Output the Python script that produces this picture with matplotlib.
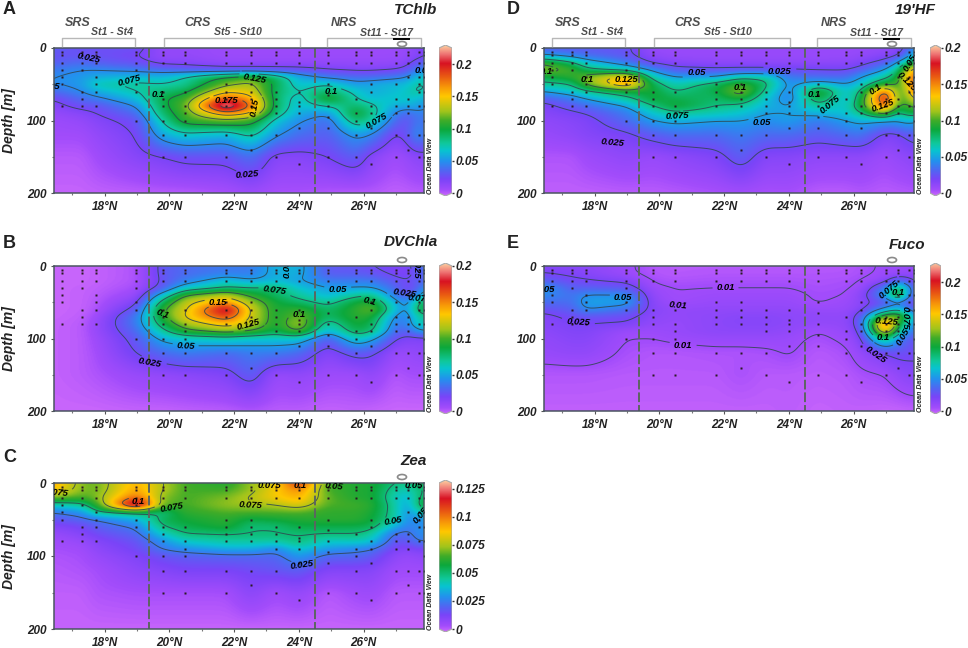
import numpy as np
import matplotlib
matplotlib.use("Agg")
import matplotlib.pyplot as plt
from matplotlib.colors import LinearSegmentedColormap, Normalize
from matplotlib.patches import Ellipse, Polygon

# station latitudes (St1 - St17) and the depths the sections were read at
station_lat = [16.68, 17.29, 17.73, 18.97, 19.80, 20.48, 21.75, 22.52, 23.29,
               24.00, 24.90, 25.78, 26.23, 26.99, 27.39, 27.71, 27.86]
grid_lat = [16.43] + station_lat[1:-1] + [27.87]
grid_depth = [0, 10, 20, 30, 40, 50, 60, 70, 80, 90, 100, 120, 150, 200]

# bottle depths per station, drawn as the small dots
sample_depths = [
    [5, 10, 20, 30, 40, 50, 80],
    [5, 10, 20, 30, 60, 70, 80],
    [5, 10, 20, 40, 50, 60, 80],
    [5, 10, 20, 30, 50, 60, 100],
    [5, 10, 20, 60, 70, 80, 100, 120, 150],
    [5, 10, 20, 60, 80, 90, 100, 120, 150],
    [5, 10, 20, 50, 60, 70, 80, 120, 150],
    [5, 10, 20, 50, 60, 70, 80, 120, 140],
    [5, 10, 20, 60, 70, 80, 90, 120, 150],
    [5, 10, 20, 60, 75, 80, 90, 110, 160],
    [5, 10, 20, 50, 65, 80, 95, 110, 150],
    [5, 10, 20, 70, 90, 100, 120, 150],
    [5, 10, 20, 50, 60, 80, 90, 110, 160],
    [5, 10, 20, 50, 70, 80, 90, 120, 150],
    [5, 10, 20, 40, 70, 80, 90, 120, 140],
    [5, 20, 40, 50, 60, 80, 120, 150],
    [5, 10, 20, 40, 60, 80, 100, 120, 150],
]

tchlb = [
    [.035, .030, .030, .030, .015, .015, .012, .012, .012, .012, .012, .012, .012, .012, .015, .020, .025],
    [.030, .030, .030, .025, .015, .015, .012, .012, .012, .012, .012, .012, .012, .012, .015, .020, .025],
    [.035, .040, .035, .030, .020, .020, .015, .015, .015, .015, .015, .015, .015, .015, .020, .035, .035],
    [.045, .050, .050, .045, .040, .035, .030, .030, .030, .030, .025, .022, .022, .025, .030, .050, .050],
    [.050, .055, .060, .065, .065, .078, .105, .115, .092, .062, .045, .040, .040, .045, .050, .070, .070],
    [.050, .055, .075, .080, .075, .080, .120, .130, .095, .065, .075, .055, .060, .065, .065, .080, .075],
    [.040, .050, .060, .075, .088, .095, .145, .140, .090, .075, .090, .070, .060, .065, .070, .085, .070],
    [.025, .040, .045, .065, .098, .110, .185, .160, .090, .065, .110, .075, .065, .070, .070, .065, .060],
    [.020, .030, .030, .050, .095, .118, .235, .175, .090, .065, .075, .090, .080, .060, .060, .060, .050],
    [.015, .020, .025, .040, .090, .112, .165, .150, .085, .060, .052, .105, .085, .048, .035, .050, .045],
    [.012, .015, .020, .030, .078, .110, .118, .110, .068, .052, .040, .090, .078, .040, .028, .050, .040],
    [.010, .010, .015, .025, .060, .070, .062, .080, .052, .040, .035, .055, .050, .022, .030, .060, .040],
    [.005, .005, .010, .020, .025, .030, .030, .042, .020, .020, .025, .036, .020, .010, .015, .020, .020],
    [.002, .002, .003, .004, .005, .005, .008, .012, .008, .008, .006, .005, .006, .003, .004, .005, .005],
]

dvchla = [
    [.001, .001, .002, .006, .030, .035, .040, .040, .055, .055, .030, .028, .025, .022, .020, .035, .040],
    [.001, .001, .002, .006, .030, .035, .040, .040, .055, .055, .030, .030, .028, .022, .020, .030, .035],
    [.001, .001, .002, .006, .028, .040, .060, .050, .055, .050, .040, .040, .040, .028, .025, .030, .035],
    [.001, .002, .003, .008, .030, .060, .075, .075, .080, .060, .050, .050, .050, .035, .020, .030, .050],
    [.001, .002, .004, .012, .060, .100, .118, .095, .080, .070, .055, .070, .075, .040, .025, .050, .060],
    [.001, .002, .005, .020, .085, .118, .145, .112, .090, .080, .070, .090, .095, .055, .040, .085, .080],
    [.001, .002, .006, .030, .100, .122, .190, .122, .090, .098, .080, .095, .110, .060, .040, .095, .085],
    [.001, .003, .010, .040, .095, .128, .165, .122, .090, .108, .080, .095, .092, .045, .040, .070, .070],
    [.002, .004, .012, .040, .085, .112, .135, .118, .090, .115, .065, .090, .085, .040, .040, .070, .065],
    [.002, .004, .012, .035, .070, .095, .108, .100, .085, .105, .055, .085, .080, .035, .030, .050, .050],
    [.002, .004, .010, .030, .055, .060, .065, .060, .060, .060, .030, .065, .055, .025, .020, .020, .020],
    [.002, .004, .008, .025, .035, .040, .035, .040, .040, .035, .018, .030, .028, .012, .012, .015, .015],
    [.002, .004, .006, .012, .014, .016, .020, .032, .012, .015, .010, .010, .015, .005, .008, .008, .008],
    [.001, .001, .001, .002, .002, .003, .004, .006, .004, .004, .002, .003, .002, .001, .001, .001, .001],
]

zea = [
    [.092, .070, .068, .090, .075, .065, .060, .072, .082, .112, .065, .060, .060, .050, .048, .055, .055],
    [.085, .070, .068, .092, .075, .065, .065, .072, .085, .095, .065, .060, .060, .045, .040, .050, .050],
    [.070, .065, .070, .102, .070, .065, .070, .077, .085, .090, .068, .060, .060, .042, .035, .050, .055],
    [.040, .045, .062, .135, .068, .065, .072, .073, .075, .082, .066, .065, .062, .045, .030, .055, .060],
    [.025, .030, .048, .050, .048, .062, .066, .066, .066, .066, .062, .062, .060, .045, .028, .040, .045],
    [.018, .022, .024, .035, .055, .058, .062, .055, .058, .060, .062, .062, .058, .045, .028, .030, .030],
    [.012, .015, .020, .026, .050, .055, .060, .050, .050, .056, .055, .055, .055, .035, .025, .030, .030],
    [.008, .012, .016, .022, .040, .050, .050, .050, .050, .050, .050, .050, .045, .022, .022, .030, .030],
    [.006, .008, .012, .018, .030, .040, .045, .045, .045, .050, .040, .042, .040, .018, .018, .028, .025],
    [.005, .006, .010, .016, .026, .030, .035, .035, .028, .040, .032, .028, .026, .014, .012, .015, .015],
    [.004, .005, .008, .013, .018, .020, .022, .022, .022, .032, .022, .022, .020, .010, .008, .010, .010],
    [.003, .004, .005, .010, .012, .014, .014, .016, .018, .020, .012, .012, .012, .006, .006, .006, .006],
    [.002, .002, .004, .005, .005, .005, .005, .011, .006, .009, .003, .006, .007, .003, .003, .003, .003],
    [.001, .001, .001, .001, .001, .001, .001, .001, .001, .001, .001, .001, .001, .001, .001, .001, .001],
]

hf19 = [
    [.030, .030, .030, .028, .012, .012, .012, .012, .012, .012, .012, .012, .012, .014, .016, .030, .050],
    [.050, .040, .035, .028, .015, .012, .012, .012, .012, .012, .012, .012, .014, .018, .020, .045, .060],
    [.100, .080, .060, .040, .022, .018, .015, .015, .015, .015, .015, .016, .020, .030, .050, .080, .090],
    [.110, .100, .080, .065, .045, .030, .028, .028, .028, .026, .025, .024, .030, .050, .075, .125, .140],
    [.085, .095, .110, .140, .065, .050, .050, .070, .070, .040, .035, .035, .050, .070, .090, .140, .165],
    [.070, .075, .105, .150, .085, .065, .085, .100, .080, .045, .060, .050, .060, .095, .095, .125, .165],
    [.050, .060, .070, .085, .090, .075, .085, .115, .070, .040, .100, .060, .075, .170, .095, .105, .170],
    [.030, .040, .050, .070, .090, .085, .080, .090, .060, .040, .088, .055, .085, .185, .100, .100, .130],
    [.020, .030, .035, .050, .075, .092, .075, .070, .055, .050, .070, .060, .090, .165, .090, .100, .105],
    [.018, .022, .025, .040, .060, .070, .065, .060, .050, .050, .055, .060, .072, .115, .060, .095, .085],
    [.015, .018, .020, .035, .050, .055, .050, .050, .045, .050, .040, .050, .055, .050, .050, .060, .050],
    [.012, .015, .018, .022, .030, .035, .035, .040, .035, .035, .030, .035, .038, .020, .022, .030, .030],
    [.006, .006, .010, .015, .012, .015, .020, .032, .018, .018, .015, .015, .015, .010, .014, .015, .018],
    [.003, .003, .003, .004, .004, .005, .007, .009, .007, .008, .004, .004, .006, .004, .005, .005, .006],
]

fuco = [
    [.020, .020, .018, .012, .006, .005, .005, .005, .005, .005, .006, .006, .007, .012, .012, .012, .014],
    [.025, .022, .020, .012, .006, .005, .006, .006, .006, .006, .006, .006, .008, .012, .012, .015, .016],
    [.035, .028, .026, .022, .009, .007, .008, .008, .008, .008, .007, .008, .010, .016, .045, .030, .020],
    [.055, .035, .035, .032, .012, .010, .010, .010, .010, .010, .008, .009, .012, .045, .100, .060, .030],
    [.050, .042, .052, .052, .015, .010, .012, .012, .012, .012, .009, .010, .018, .055, .130, .050, .030],
    [.040, .040, .058, .058, .018, .011, .014, .014, .014, .014, .009, .012, .018, .030, .040, .030, .025],
    [.030, .035, .052, .040, .020, .016, .016, .016, .016, .016, .014, .014, .020, .055, .075, .050, .030],
    [.020, .028, .030, .028, .018, .015, .018, .020, .020, .018, .017, .016, .032, .125, .130, .090, .060],
    [.020, .024, .025, .024, .016, .014, .018, .020, .020, .018, .015, .016, .032, .190, .110, .060, .050],
    [.018, .022, .022, .012, .012, .014, .018, .018, .018, .016, .010, .014, .025, .165, .085, .050, .040],
    [.016, .020, .020, .010, .010, .012, .014, .014, .014, .013, .008, .012, .020, .095, .050, .035, .030],
    [.014, .016, .016, .008, .006, .006, .007, .007, .008, .011, .005, .008, .015, .025, .030, .028, .028],
    [.006, .006, .006, .005, .005, .005, .005, .008, .005, .005, .004, .005, .008, .010, .016, .020, .020],
    [.003, .003, .003, .003, .003, .003, .003, .003, .003, .004, .002, .003, .003, .002, .002, .003, .003],
]

# inline contour labels: text, lat, depth, rotation
tchlb_labels = [("0.025", 17.5, 14, -12), ("0.075", 18.75, 45, 15), ("0.05", 16.33, 52, -4),
                ("0.1", 19.65, 64, 0), ("0.125", 22.65, 42, -10), ("0.175", 21.75, 73, 0),
                ("0.15", 22.65, 82, 80), ("0.1", 25.0, 60, 0), ("0.075", 26.4, 100, 30),
                ("0.025", 22.4, 175, 5), ("0.075", 27.95, 31, 0)]
dvchla_labels = [("0.1", 19.78, 66, -20), ("0.15", 21.5, 50, 0), ("0.125", 22.45, 81, 15),
                 ("0.075", 23.24, 34, -8), ("0.1", 24.0, 67, 0), ("0.1", 26.2, 48, -15),
                 ("0.05", 20.5, 110, -3), ("0.05", 25.2, 32, 0), ("0.025", 19.4, 133, -10),
                 ("0.025", 27.26, 37, -8), ("0.075", 27.72, 45, -5), ("0.05", 23.63, 4, 90),
                 ("0.025", 27.63, 1, -90)]
zea_labels = [("0.075", 16.5, 13, -5), ("0.1", 19.04, 25, 0), ("0.075", 20.07, 33, 10),
              ("0.075", 22.5, 30, -3), ("0.075", 23.1, 4, 0), ("0.1", 24.04, 4, 0),
              ("0.05", 25.1, 4, -5), ("0.05", 26.93, 52, 10), ("0.025", 24.1, 112, 8),
              ("0.05", 27.55, 4, 0), ("0.05", 27.75, 44, 50)]
hf19_labels = [("0.1", 16.5, 33, 0), ("0.1", 17.77, 44, 0), ("0.125", 18.98, 44, 0),
               ("0.1", 22.48, 55, 0), ("0.05", 21.14, 34, 0), ("0.025", 23.72, 32, 0),
               ("0.075", 20.55, 94, 3), ("0.05", 23.17, 103, 0), ("0.025", 18.55, 130, -5),
               ("0.1", 24.78, 64, 0), ("0.075", 25.27, 78, 40), ("0.1", 26.68, 57, 35),
               ("0.125", 26.92, 80, 20), ("0.125", 27.64, 46, -45), ("0.05", 27.74, 21, 60)]
fuco_labels = [("0.05", 16.5, 33, 0), ("0.05", 18.88, 43, 0), ("0.025", 17.5, 78, -3),
               ("0.01", 20.58, 54, -5), ("0.01", 22.04, 30, 0), ("0.01", 20.73, 110, 0),
               ("0.025", 26.68, 122, -35), ("0.075", 27.09, 33, 40), ("0.1", 27.38, 36, 0),
               ("0.125", 27.02, 76, -5), ("0.1", 26.92, 99, 0), ("0.075", 27.6, 72, -90),
               ("0.05", 27.53, 98, 60)]

# top and bottom in pixels, left edge of the section in pixels
panels = [
    dict(letter="A", name="TChlb", values=tchlb, vmax=.225, top=48, bottom=193, left=54,
         cticks=[0, .05, .1, .15, .2], clabels=["0", "0.05", "0.1", "0.15", "0.2"],
         levels=[.025, .05, .075, .1, .125, .15, .175, .2], labels=tchlb_labels,
         title_right=437, title_y=10, letter_y=10, regions=True),
    dict(letter="B", name="DVChla", values=dvchla, vmax=.2, top=266, bottom=411, left=54,
         cticks=[0, .05, .1, .15, .2], clabels=["0", "0.05", "0.1", "0.15", "0.2"],
         levels=[.025, .05, .075, .1, .125, .15, .175], labels=dvchla_labels,
         title_right=438, title_y=242, letter_y=244, regions=False),
    dict(letter="C", name="Zea", values=zea, vmax=.13, top=483, bottom=629, left=54,
         cticks=[0, .025, .05, .075, .1, .125], clabels=["0", "0.025", "0.05", "0.075", "0.1", "0.125"],
         levels=[.025, .05, .075, .1], labels=zea_labels,
         title_right=427, title_y=461, letter_y=458, regions=False),
    dict(letter="D", name="19'HF", values=hf19, vmax=.2, top=48, bottom=193, left=544,
         cticks=[0, .05, .1, .15, .2], clabels=["0", "0.05", "0.1", "0.15", "0.2"],
         levels=[.025, .05, .075, .1, .125, .15], labels=hf19_labels,
         title_right=936, title_y=10, letter_y=10, regions=True),
    dict(letter="E", name="Fuco", values=fuco, vmax=.225, top=266, bottom=411, left=544,
         cticks=[0, .05, .1, .15, .2], clabels=["0", "0.05", "0.1", "0.15", "0.2"],
         levels=[.01, .025, .05, .075, .1, .125, .15], labels=fuco_labels,
         title_right=925, title_y=245, letter_y=244, regions=False),
]

W, H = 968, 648
plt.rcParams["font.family"] = ["Liberation Sans", "DejaVu Sans"]
plt.rcParams["font.weight"] = "bold"
plt.rcParams["font.style"] = "italic"

odv = LinearSegmentedColormap.from_list("odv", [
    (0.00, "#cc68fc"), (0.04, "#a24cfb"), (0.11, "#7a44f8"), (0.17, "#4f68f2"), (0.23, "#2391ee"),
    (0.30, "#08c4d0"), (0.35, "#10c89a"), (0.44, "#0ca83c"), (0.50, "#40ac28"),
    (0.56, "#a0c41c"), (0.66, "#ffc800"), (0.72, "#f89a08"), (0.79, "#ea5c12"),
    (0.88, "#d81222"), (0.94, "#ee7272"), (1.00, "#fdd0a0"),
])


def text_px(fig, x, y, s, **kw):
    return fig.text(x / W, 1 - y / H, s, **kw)


def blur(a, sigma, axis):
    # plain gaussian along one axis, edges repeated
    r = int(3 * sigma)
    k = np.exp(-0.5 * (np.arange(-r, r + 1) / sigma) ** 2)
    k /= k.sum()
    pad = [(0, 0), (0, 0)]
    pad[axis] = (r, r)
    a = np.pad(a, pad, mode="edge")
    return np.apply_along_axis(lambda v: np.convolve(v, k, mode="valid"), axis, a)


fine_lat = np.linspace(16.43, 27.87, 372)
fine_depth = np.linspace(0, 200, 291)


def smooth_field(values):
    v = np.array(values)
    by_depth = np.array([np.interp(fine_lat, grid_lat, row) for row in v])
    field = np.array([np.interp(fine_depth, grid_depth, col) for col in by_depth.T]).T
    field = blur(field, 6, 1)
    field = blur(field, 6, 0)
    return field


fig = plt.figure(figsize=(W / 100, H / 100), dpi=100, facecolor="white")

for p in panels:
    width = 370
    right_col = p["left"] > 100
    ax = fig.add_axes([p["left"] / W, 1 - p["bottom"] / H, width / W, (p["bottom"] - p["top"]) / H])
    field = smooth_field(p["values"])
    ax.imshow(field, cmap=odv, norm=Normalize(0, p["vmax"]), aspect="auto", origin="upper",
              extent=(16.43, 27.87, 200, 0), interpolation="bilinear")

    # contour lines stop around their labels, the way ODV leaves them
    mask = np.zeros(field.shape, dtype=bool)
    LA, DE = np.meshgrid(fine_lat, fine_depth)
    for s, la, de, rot in p["labels"]:
        ang = np.deg2rad(rot)
        dx = (LA - la) * 32.3
        dy = (DE - de) * 0.725
        along = dx * np.cos(ang) - dy * np.sin(ang)
        across = dx * np.sin(ang) + dy * np.cos(ang)
        half = 3.2 * len(s)
        mask |= (np.abs(along) < half) & (np.abs(across) < 4.5)
    ax.contour(LA, DE, np.ma.array(field, mask=mask), levels=p["levels"], colors="#2f4650",
               linewidths=0.7, alpha=0.85)
    for s, la, de, rot in p["labels"]:
        ax.text(la, de, s, fontsize=6.8, rotation=rot, rotation_mode="anchor", ha="center", va="center",
                color="black", clip_on=True)

    ax.set_xlim(16.43, 27.87)
    ax.set_ylim(200, 0)

    for la, depths in zip(station_lat, sample_depths):
        ax.plot([la] * len(depths), depths, ls="none", marker="s", ms=1.5, mec="none", color="#2a1a22")

    for boundary in (19.36, 24.5):
        ax.plot([boundary, boundary], [0, 200], color="#5c6660", lw=1.4, ls=(0, (5, 1.5)))

    ax.set_xticks([18, 20, 22, 24, 26])
    ax.set_xticklabels(["18°N", "20°N", "22°N", "24°N", "26°N"], fontsize=8.5, color="#222222")
    ax.set_xticks([17, 19, 21, 23, 25, 27], minor=True)
    ax.set_yticks([0, 100, 200])
    ax.set_yticklabels(["0", "100", "200"], fontsize=8.5, color="#222222")
    ax.set_yticks([50, 150], minor=True)
    ax.tick_params(which="major", length=2.5, width=0.8, color="#555555", pad=3)
    ax.tick_params(which="minor", length=1.5, width=0.8, color="#777777")
    for s in ax.spines.values():
        s.set_color("#4a5560")
        s.set_linewidth(1.1)

    mid = (p["top"] + p["bottom"]) / 2 + 0.5
    if not right_col:
        text_px(fig, p["left"] - 45, mid, "Depth [m]", rotation=90, fontsize=10, ha="center", va="center",
                color="#222222")
    text_px(fig, p["left"] - 37 if right_col else p["left"] - 51, p["letter_y"], p["letter"], fontsize=13,
            fontstyle="normal", ha="left", va="center", color="#222222")
    text_px(fig, p["title_right"], p["title_y"], p["name"], fontsize=11, ha="right", va="center", color="#222222")

    # little eddy symbol above the section
    ex = p["left"] + 348
    ey = p["top"] - (4 if p["regions"] else 6)
    fig.add_artist(Ellipse((ex / W, 1 - ey / H), 9 / W, 5 / H, fc="white", ec="#8a8a8a", lw=1.2,
                           transform=fig.transFigure))

    if p["regions"]:
        off = p["left"] - 54
        for x0, x1 in [(62, 135), (164, 300), (327, 421)]:
            fig.add_artist(plt.Line2D(
                [(x0 + off) / W, (x0 + off) / W, (x1 + off) / W, (x1 + off) / W],
                [1 - 46 / H, 1 - 38 / H, 1 - 38 / H, 1 - 46 / H], color="#b8b8b8", lw=1.0))
        fig.add_artist(plt.Line2D([(394 + off) / W, (409 + off) / W], [1 - 39 / H, 1 - 39 / H], color="black", lw=1.4))
        for x, y, s, size in [(78, 23, "SRS", 9), (112, 32, "St1 - St4", 7.6), (198, 23, "CRS", 9),
                              (238, 32, "St5 - St10", 7.6), (344, 23, "NRS", 9), (387, 33, "St11 - St17", 7.6)]:
            text_px(fig, x + off, y, s, fontsize=size, ha="center", va="center", color="#4d4d4d")

    # colour bar with the ODV pointed ends
    cx0 = 930 if right_col else 439
    cw = 11 if right_col else 13
    vmax = p["vmax"]
    h = p["bottom"] - p["top"]
    pad = vmax * 3 / h
    cax = fig.add_axes([cx0 / W, 1 - (p["bottom"] + 3) / H, cw / W, (h + 6) / H])
    grad = np.linspace(0, 1, 256).reshape(-1, 1)
    im = cax.imshow(grad, origin="lower", aspect="auto", cmap=odv, extent=(0, 1, -pad, vmax + pad))
    outline = Polygon([(0, 0), (0.5, -pad), (1, 0), (1, vmax), (0.5, vmax + pad), (0, vmax)], closed=True,
                      fc="none", ec="#aaaaaa", lw=0.8, transform=cax.transData)
    cax.add_patch(outline)
    im.set_clip_path(outline)
    cax.set_xlim(0, 1)
    cax.set_ylim(-pad, vmax + pad)
    cax.set_xticks([])
    cax.yaxis.tick_right()
    cax.set_yticks(p["cticks"])
    cax.set_yticklabels(p["clabels"], fontsize=8.6, color="#222222")
    cax.tick_params(axis="y", length=1.5, width=1, color="#333333", pad=1)
    for s in cax.spines.values():
        s.set_visible(False)

    text_px(fig, p["left"] + 376, p["bottom"] - 27, "Ocean Data View", rotation=90, fontsize=5,
            ha="center", va="center", color="#222222")

fig.savefig("out.png", dpi=100)
